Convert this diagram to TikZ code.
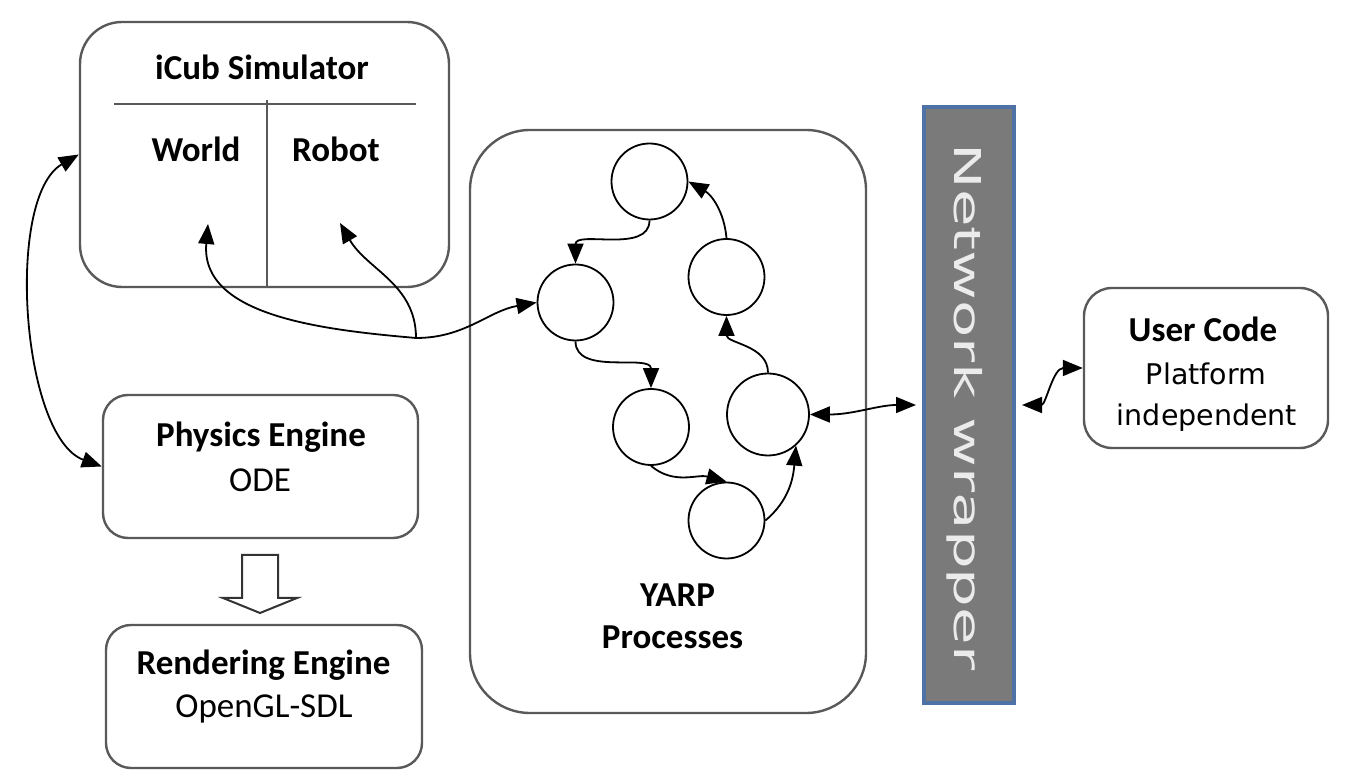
\documentclass[tikz,border=0pt]{standalone}
\usepackage{fontspec}
\setmainfont{Carlito}
\newfontfamily\widefont{DejaVu Sans}
\usetikzlibrary{arrows.meta}
\definecolor{wrapfill}{HTML}{7A7A7A}
\definecolor{wrapline}{HTML}{4F72A6}

\begin{document}
\begin{tikzpicture}[x=1pt,y=1pt,
	box/.style={draw=black!65, line width=2.4pt, inner sep=0pt},
	proc/.style={circle, draw, line width=1.8pt, minimum size=76pt, inner sep=0pt},
	lbl/.style={anchor=base, inner sep=0pt, font=\fontsize{35}{42}\selectfont},
	wlbl/.style={anchor=base, inner sep=0pt, font=\fontsize{28.5}{34}\selectfont\widefont},
	conn/.style={line width=1.8pt, -{Triangle[length=20pt,width=16pt]}},
	both/.style={line width=1.8pt, {Triangle[length=20pt,width=16pt]}-{Triangle[length=20pt,width=16pt]}}]
	\useasboundingbox (0,0) rectangle (1345,784);
	% simulator
	\node[box, rounded corners=42pt, minimum width=369pt, minimum height=265pt] (sim) at (264.5,629.5){};
	\node[lbl] (simT) at (262,704){\textbf{iCub Simulator}};
	\draw[draw=black!65, line width=2.4pt] (114,680) -- (416,680);
	\draw[draw=black!65, line width=2.4pt] (267,684) -- (267,497);
	\node[lbl] (world) at (196,622){\textbf{World}};
	\node[lbl] (robot) at (336,622){\textbf{Robot}};
	% engines
	\node[box, rounded corners=25pt, minimum width=315pt, minimum height=143pt] (phys) at (260.5,317.5){};
	\node[lbl] (physT) at (261,337){\textbf{Physics Engine}};
	\node[lbl] (physS) at (260,292){ODE};
	\node[box, rounded corners=25pt, minimum width=316pt, minimum height=143pt] (render) at (264,87.5){};
	\node[lbl] (renderT) at (263.5,109){\textbf{Rendering Engine}};
	\node[lbl] (renderS) at (264,66){OpenGL-SDL};
	\draw[box, draw=black!80, line width=2pt] (242,229) -- (278,229) -- (278,186) -- (297,186) -- (260,171) -- (223,186) -- (242,186) -- cycle;
	% yarp
	\node[box, rounded corners=60pt, minimum width=396pt, minimum height=583pt] (yarp) at (668,362.5){};
	\node[lbl] (yarpT) at (677.5,177){\textbf{YARP}};
	\node[lbl] (yarpS) at (672.5,135){\textbf{Processes}};
	\node[proc] (p1) at (649.5,602.5){};
	\node[proc] (p2) at (575.5,481.5){};
	\node[proc] (p3) at (726.5,507){};
	\node[proc] (p4) at (651,357){};
	\node[proc, minimum size=82pt] (p5) at (768,369.5){};
	\node[proc] (p6) at (726.5,263.5){};
	\draw[conn] (p1.south) to[out=-90,in=90] (p2.north);
	\draw[conn] (p2.south) to[out=-90,in=90] (p4.north);
	\draw[conn] (p4.south) to[out=-40,in=165] (p6.north);
	\draw[conn] (p6.east) to[out=40,in=-95] (p5.-48);
	\draw[conn] (p5.north) to[out=90,in=-90] (p3.south);
	\draw[conn] (p3.north) to[out=95,in=-30] (p1.east);
	% network
	\node[draw=wrapline, fill=wrapfill, line width=4pt, minimum width=90pt, minimum height=596pt] (nw) at (969,379){};
	\node[rotate=-90, inner sep=0pt, text=white!92!black, font=\fontsize{37}{44}\selectfont\widefont] (nwT) at (965,377){\scalebox{1.65}[1]{Network wrapper}};
	\node[box, rounded corners=28pt, minimum width=244pt, minimum height=160pt] (user) at (1206,416){};
	\node[lbl] (userT) at (1203,442){\textbf{User Code}};
	\node[wlbl] (userS) at (1206,399){Platform};
	\node[wlbl] (userI) at (1207,358){independent};
	% links
	\coordinate (jn) at (416,446);
	\coordinate (wIn) at (208,560);
	\coordinate (rIn) at (340,561);
	\draw[conn] (jn) to[out=0,in=190] (p2.west);
	\draw[conn] (jn) to[out=175,in=-95] (wIn);
	\draw[conn] (jn) to[out=90,in=-60] (rIn);
	\draw[both] (sim.west) to[out=-150,in=160,looseness=0.7] (phys.west);
	\draw[both, shorten >=6pt] (p5.east) to[out=0,in=180] (nw.west);
	\draw[both, shorten <=6pt] (nw.east) to[out=0,in=180] (user.west);
\end{tikzpicture}
\end{document}
